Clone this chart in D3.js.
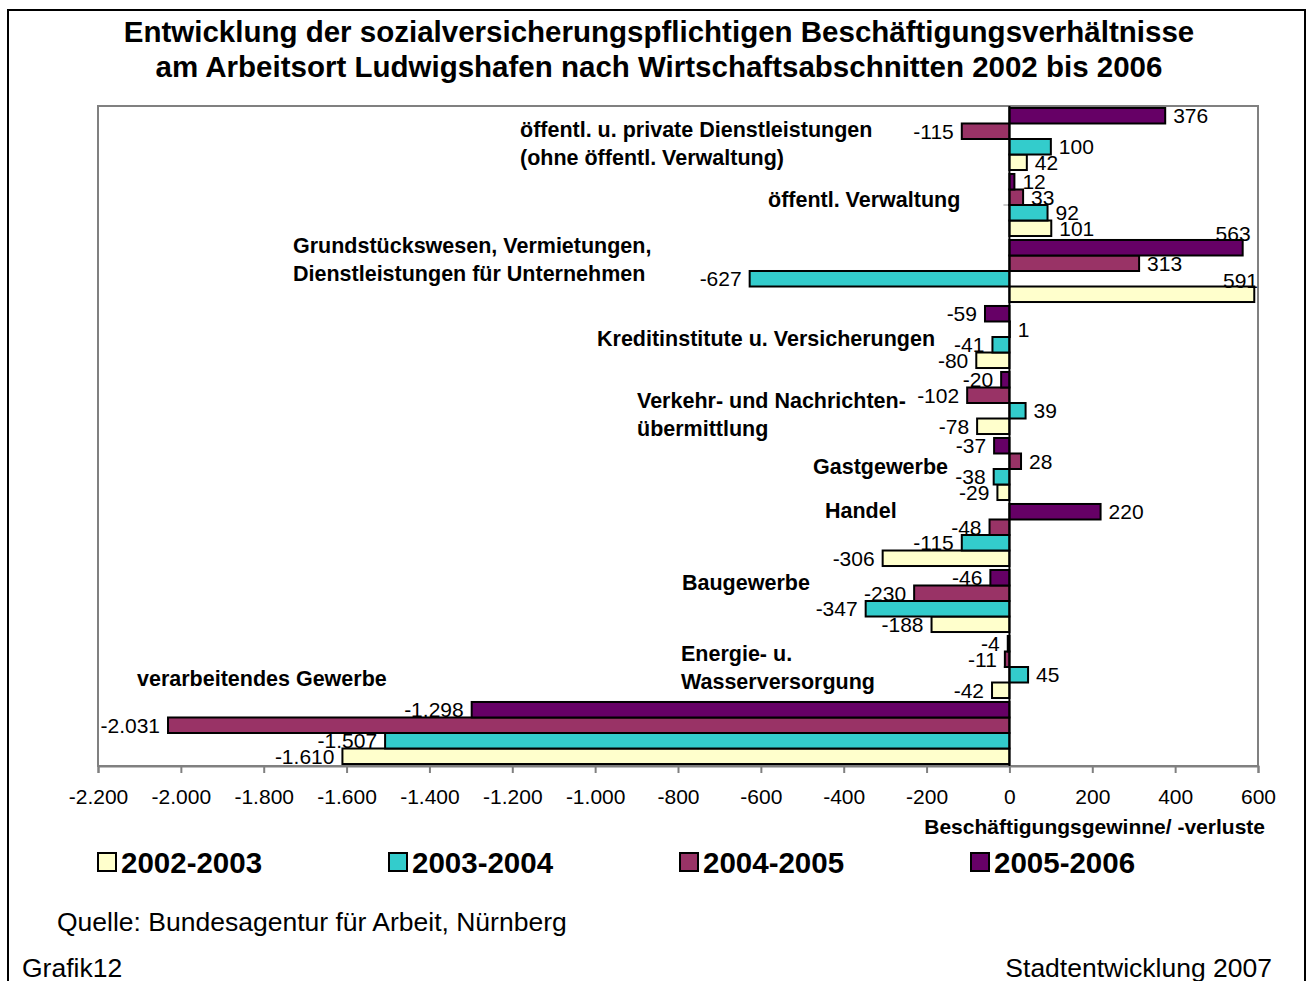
<!DOCTYPE html>
<html>
<head>
<meta charset="utf-8">
<script src="https://cdn.jsdelivr.net/npm/d3@7"></script>
<style>
  body { margin: 0; background: #fff; }
  svg { display: block; font-family: "Liberation Sans", Arial, sans-serif; }
</style>
</head>
<body>
<div id="chart"></div>
<script>
// Beschäftigungsentwicklung Ludwigshafen - horizontal grouped bars

// categories, top to bottom
const categories = [
  ["öffentl. u. private Dienstleistungen", "(ohne öffentl. Verwaltung)"],
  ["öffentl. Verwaltung"],
  ["Grundstückswesen, Vermietungen,", "Dienstleistungen für Unternehmen"],
  ["Kreditinstitute u. Versicherungen"],
  ["Verkehr- und Nachrichten-", "übermittlung"],
  ["Gastgewerbe"],
  ["Handel"],
  ["Baugewerbe"],
  ["Energie- u.", "Wasserversorgung"],
  ["verarbeitendes Gewerbe"]
];

// series in legend order
const seriesNames = ["2002-2003", "2003-2004", "2004-2005", "2005-2006"];
const seriesColors = ["#FFFFCC", "#33CCCC", "#993366", "#660066"];

const v2002_2003 = [42, 101, 591, -80, -78, -29, -306, -188, -42, -1610];
const v2003_2004 = [100, 92, -627, -41, 39, -38, -115, -347, 45, -1507];
const v2004_2005 = [-115, 33, 313, 1, -102, 28, -48, -230, -11, -2031];
const v2005_2006 = [376, 12, 563, -59, -20, -37, 220, -46, -4, -1298];

const xTicks = [-2200, -2000, -1800, -1600, -1400, -1200, -1000, -800, -600, -400, -200, 0, 200, 400, 600];

// where the branch names sit: [left x, offset from top of the group]
const catLabelPos = [[520, 21], [768, 25], [293, 5], [597, 32], [637, 28],
                     [813, 28], [825, 6], [682, 12], [681, 17], [137, -24]];

const W = 1315, H = 981;
const plot = { left: 98, right: 1258, top: 106, bottom: 766 };

const svg = d3.select("#chart").append("svg")
  .attr("width", W).attr("height", H);

svg.append("rect").attr("width", W).attr("height", H).attr("fill", "#fff");

// outer frame
svg.append("rect")
  .attr("x", 8).attr("y", 10).attr("width", 1297).attr("height", 1000)
  .attr("fill", "none").attr("stroke", "#000").attr("stroke-width", 2);

// title
const title = svg.append("text")
  .attr("text-anchor", "middle")
  .attr("font-size", 29.5).attr("font-weight", "bold");
title.append("tspan").attr("x", 659).attr("y", 42)
  .text("Entwicklung der sozialversicherungspflichtigen Beschäftigungsverhältnisse");
title.append("tspan").attr("x", 659).attr("y", 77)
  .text("am Arbeitsort Ludwigshafen nach Wirtschaftsabschnitten 2002 bis 2006");

// data rows, one object per series
const seriesValues = [v2002_2003, v2003_2004, v2004_2005, v2005_2006];
const rows = categories.map((c, i) => ({
  idx: i,
  values: seriesNames.map((s, k) => ({ series: s, color: seriesColors[k], value: seriesValues[k][i] }))
}));

// scales
const x = d3.scaleLinear().domain([-2200, 600]).range([plot.left, plot.right]);
const y = d3.scaleBand().domain(d3.range(categories.length))
  .range([plot.top, plot.bottom]).paddingInner(0.06).paddingOuter(0.03);
// inside a group the latest period is on top
const ySub = d3.scaleBand().domain(seriesNames.slice().reverse()).range([0, y.bandwidth()]);

const de = d3.formatLocale({ decimal: ",", thousands: ".", grouping: [3], currency: ["", " €"], minus: "-" });
const fmt = de.format(",d");

// plot area
svg.append("rect")
  .attr("x", plot.left).attr("y", plot.top)
  .attr("width", plot.right - plot.left).attr("height", plot.bottom - plot.top)
  .attr("fill", "#fff").attr("stroke", "#808080").attr("stroke-width", 2);

// x axis
const xAxis = svg.append("g")
  .attr("transform", "translate(0," + plot.bottom + ")")
  .call(d3.axisBottom(x).tickValues(xTicks).tickFormat(fmt).tickSize(7).tickPadding(16));
xAxis.select(".domain").attr("stroke", "#808080").attr("stroke-width", 2);
xAxis.selectAll(".tick line").attr("stroke", "#808080").attr("stroke-width", 2);
xAxis.selectAll(".tick text")
  .attr("font-family", "Liberation Sans, Arial, sans-serif")
  .attr("font-size", 21).attr("fill", "#000");

svg.append("text")
  .attr("x", 1265).attr("y", 834)
  .attr("text-anchor", "end")
  .attr("font-size", 21).attr("font-weight", "bold")
  .text("Beschäftigungsgewinne/ -verluste");

// small category ticks on the zero axis
svg.append("g").selectAll("line").data(rows).join("line")
  .attr("x1", x(0) - 6).attr("x2", x(0))
  .attr("y1", d => y(d.idx) + y.bandwidth() / 2)
  .attr("y2", d => y(d.idx) + y.bandwidth() / 2)
  .attr("stroke", "#999").attr("stroke-width", 1);

// bars
const group = svg.append("g").selectAll("g").data(rows).join("g")
  .attr("transform", d => "translate(0," + y(d.idx) + ")");

group.selectAll("rect").data(d => d.values).join("rect")
  .attr("x", d => x(Math.min(0, d.value)))
  .attr("y", d => ySub(d.series))
  .attr("width", d => Math.abs(x(d.value) - x(0)))
  .attr("height", ySub.bandwidth())
  .attr("fill", d => d.color)
  .attr("stroke", "#000").attr("stroke-width", 2);

// value labels
group.selectAll("text").data(d => d.values).join("text")
  .attr("font-size", 21)
  .attr("dy", "0.35em")
  .each(function(d) {
    const t = d3.select(this).text(fmt(d.value));
    const cy = ySub(d.series) + ySub.bandwidth() / 2;
    if (d.value < 0) {
      t.attr("x", x(d.value) - 8).attr("y", cy).attr("text-anchor", "end");
    } else {
      const w = this.getComputedTextLength();
      if (x(d.value) + 8 + w > plot.right) {
        // no room on the right: tuck it above the bar end
        t.attr("x", Math.min(x(d.value) + 8, plot.right)).attr("y", cy - 14).attr("text-anchor", "end");
      } else {
        t.attr("x", x(d.value) + 8).attr("y", cy).attr("text-anchor", "start");
      }
    }
  });

// zero axis line
svg.append("line")
  .attr("x1", x(0)).attr("x2", x(0))
  .attr("y1", plot.top).attr("y2", plot.bottom)
  .attr("stroke", "#000").attr("stroke-width", 2);

// branch names
const catLabels = svg.append("g").selectAll("text").data(rows).join("text")
  .attr("font-size", 21.5).attr("font-weight", "bold");
catLabels.each(function(d) {
  const t = d3.select(this);
  const pos = catLabelPos[d.idx];
  categories[d.idx].forEach((line, j) => {
    t.append("tspan").attr("x", pos[0]).attr("y", y(d.idx) + pos[1] + j * 28)
      .attr("dy", "0.35em").text(line);
  });
});

// legend
const legend = svg.append("g").selectAll("g").data(seriesNames).join("g")
  .attr("transform", (d, i) => "translate(" + (98 + i * 291) + ",853)");
legend.append("rect")
  .attr("width", 18).attr("height", 18)
  .attr("fill", (d, i) => seriesColors[i])
  .attr("stroke", "#000").attr("stroke-width", 2);
legend.append("text")
  .attr("x", 23).attr("y", 20)
  .attr("font-size", 29.5).attr("font-weight", "bold")
  .text(d => d);

// footer
svg.append("text").attr("x", 57).attr("y", 931).attr("font-size", 26.5)
  .text("Quelle: Bundesagentur für Arbeit, Nürnberg");
svg.append("text").attr("x", 22).attr("y", 977).attr("font-size", 26.5)
  .text("Grafik12");
svg.append("text").attr("x", 1272).attr("y", 977).attr("font-size", 26.5)
  .attr("text-anchor", "end")
  .text("Stadtentwicklung 2007");
</script>
</body>
</html>
